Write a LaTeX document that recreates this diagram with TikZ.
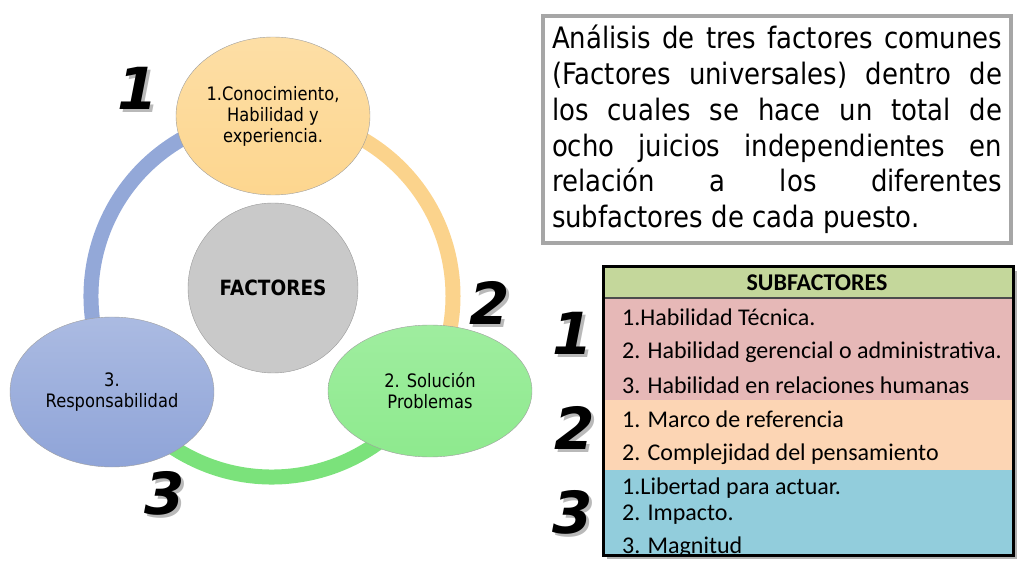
\documentclass[tikz,border=0pt]{standalone}
\usepackage{fontspec}
\setmainfont{DejaVu Sans}[FakeStretch=0.88]
\newfontfamily\tablefont{Carlito}
\newfontfamily\numfont{DejaVu Sans}
\usetikzlibrary{shapes.geometric}
\definecolor{peachy}{HTML}{FDD68F}
\definecolor{peachyarc}{HTML}{FBD38C}
\definecolor{mint}{HTML}{8EEA8E}
\definecolor{mintarc}{HTML}{7BE27B}
\definecolor{slate}{HTML}{8FA4D8}
\definecolor{slatearc}{HTML}{93A8D8}
\definecolor{boxgray}{HTML}{A6A6A6}
\definecolor{headgreen}{HTML}{C4D79B}
\definecolor{rowpink}{HTML}{E6B8B7}
\definecolor{rowpeach}{HTML}{FCD5B4}
\definecolor{rowblue}{HTML}{92CDDC}
\tikzset{
    ring-arc/.style = {line width=15pt},
    factor/.style = {ellipse, draw=gray!75, thin, inner sep=0pt, align=center, font=\fontsize{18.5}{21}\selectfont},
    hub-circle/.style = {circle, draw=gray!80, fill=gray!42, minimum size=170pt, font=\bfseries\fontsize{21}{24}\selectfont},
    big-number/.style = {font=\fontsize{58}{58}\numfont\bfseries\itshape},
    number-shadow/.style = {big-number, text=gray!55},
    info-box/.style = {draw=boxgray, line width=4pt, fill=white, minimum width=468pt, minimum height=227pt, inner sep=0pt},
    sub-item/.style = {anchor=west, inner sep=0pt, font=\tablefont\fontsize{24}{28}\selectfont},
}
\begin{document}
\begin{tikzpicture}[x=1pt,y=1pt]
\useasboundingbox (0,0) rectangle (1024,576);
% ring behind the factors
\coordinate (hub) at (272,280);
\draw[ring-arc, peachyarc] ([shift={(90:181)}]hub) arc[start angle=90, end angle=-31, radius=181];
\draw[ring-arc, mintarc] ([shift={(-31:181)}]hub) arc[start angle=-31, end angle=-149, radius=181];
\draw[ring-arc, slatearc] ([shift={(211:181)}]hub) arc[start angle=211, end angle=90, radius=181];
% factors
\node[factor, minimum width=194pt, minimum height=158pt, top color=peachy!80!white, bottom color=peachy] (know) at (273,460) {1.Conocimiento,\\Habilidad y\\experiencia.};
\node[factor, minimum width=204pt, minimum height=132pt, top color=mint!85!white, bottom color=mint] (solve) at (430,185) {2. Soluci\'on\\Problemas};
\node[factor, minimum width=204pt, minimum height=150pt, top color=slate!75!white, bottom color=slate] (resp) at (112,184) {3.\\Responsabilidad};
\node[hub-circle] (factores) at (273,288) {FACTORES};
% big numbers
\node[number-shadow] at (141,485) {1};
\node[big-number] (n1) at (138,488) {1};
\node[number-shadow] at (493,270) {2};
\node[big-number] (n2) at (490,273) {2};
\node[number-shadow] at (168,80) {3};
\node[big-number] (n3) at (165,83) {3};
% description
\node[info-box] (info) at (777,446.5) {\begin{minipage}{450pt}
\fontsize{29.5}{35.7}\selectfont\noindent
\makebox[\linewidth][s]{An\'alisis de tres factores comunes}\\
\makebox[\linewidth][s]{(Factores universales) dentro de}\\
\makebox[\linewidth][s]{los cuales se hace un total de}\\
\makebox[\linewidth][s]{ocho juicios independientes en}\\
\makebox[\linewidth][s]{relaci\'on a los diferentes}\\
subfactores de cada puesto.
\end{minipage}};
% table of subfactors
\fill[gray!60] (607,17) rectangle (1017,305);
\fill[headgreen] (603,309) rectangle (1013,278);
\fill[rowpink] (603,278) rectangle (1013,176);
\fill[rowpeach] (603,176) rectangle (1013,106);
\fill[rowblue] (603,106) rectangle (1013,21);
\draw[line width=1.2pt, black!70] (603,278) -- (1013,278);
\node[font=\tablefont\bfseries\fontsize{24}{28}\selectfont] (subf) at (817,293) {SUBFACTORES};
\begin{scope}
\clip (603,23) rectangle (1013,309);
\node[sub-item] (s11) at (622,259) {1.Habilidad T\'ecnica.};
\node[sub-item] (s12) at (622,224) {2. Habilidad gerencial o administrativa.};
\node[sub-item] (s13) at (622,191) {3. Habilidad en relaciones humanas};
\node[sub-item] (s21) at (622,157) {1. Marco de referencia};
\node[sub-item] (s22) at (622,122) {2. Complejidad del pensamiento};
\node[sub-item] (s31) at (622,88) {1.Libertad para actuar.};
\node[sub-item] (s32) at (622,61) {2. Impacto.};
\node[sub-item] (s33) at (622,29) {3. Magnitud};
\end{scope}
\draw[line width=3pt] (603,21) rectangle (1013,309);
\node[number-shadow] at (576,240) {1};
\node[big-number] (t1) at (573,243) {1};
\node[number-shadow] at (578,145) {2};
\node[big-number] (t2) at (575,148) {2};
\node[number-shadow] at (576,61) {3};
\node[big-number] (t3) at (573,64) {3};
\end{tikzpicture}
\end{document}
